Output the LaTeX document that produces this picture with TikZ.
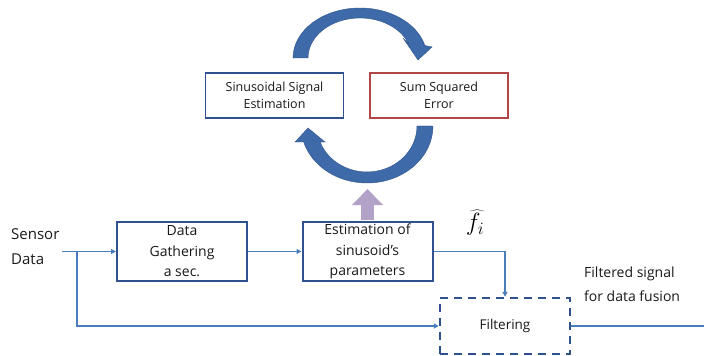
\documentclass[tikz,border=0pt]{standalone}
\usepackage{fontspec}
\setmainfont{Open Sans}
\usetikzlibrary{arrows.meta}
\definecolor{boxblue}{RGB}{47,82,143}
\definecolor{boxred}{RGB}{176,70,72}
\definecolor{lineblue}{RGB}{74,126,187}
\definecolor{arcblue}{RGB}{62,106,170}
\definecolor{lilac}{RGB}{179,162,199}
\begin{document}
\begin{tikzpicture}[x=1pt,y=-1pt,
  topbox/.style={line width=1.8pt, fill=white, align=center, inner sep=0pt,
    minimum width=138pt, minimum height=45pt, text=black!90,
    font=\fontsize{12.5}{17}\selectfont},
  botbox/.style={draw=boxblue, line width=2pt, fill=white, align=center, inner sep=0pt,
    minimum width=130pt, minimum height=59pt, text=black!90,
    font=\fontsize{14}{20.5}\selectfont},
  filtbox/.style={draw=boxblue, line width=2.5pt, dash pattern=on 8pt off 6pt,
    fill=white, align=center, inner sep=0pt,
    minimum width=130pt, minimum height=56pt, text=black!90,
    font=\fontsize{13.5}{16}\selectfont},
  lbl/.style={align=left, inner sep=0pt, text=black!90},
  conn/.style={draw=lineblue, line width=1.3pt, -{Triangle[length=5pt,width=5pt]}},
  connplain/.style={draw=lineblue, line width=1.3pt},
  arcshape/.style={fill=arcblue, draw=arcblue!80!black, line width=0.4pt}
]
\useasboundingbox (0,0) rectangle (704,356);

% circular arrows
\path[arcshape] (293,58) arc[start angle=180, end angle=345.5, x radius=67, y radius=50]
  -- (432,47) -- (418,60) -- (403,38) -- (408.9,44.3)
  arc[start angle=340, end angle=180, x radius=52, y radius=40] -- cycle;
\path[arcshape] (433,126) arc[start angle=0, end angle=163.7, x radius=66, y radius=57]
  -- (295,142) -- (308,128) -- (325,142) -- (320.1,142)
  arc[start angle=159.6, end angle=0, x radius=50, y radius=46] -- cycle;

% nodes
\node[topbox, draw=boxblue] (sse) at (274.5,95.5) {Sinusoidal Signal\\Estimation};
\node[topbox, draw=boxred] (sqe) at (439,95.5) {Sum Squared\\Error};
\node[botbox] (gather) at (182,251.5) {Data\\Gathering\\a sec.};
\node[botbox] (est) at (367.5,251.5) {Estimation of\\sinusoid’s\\parameters};
\node[filtbox] (filt) at (505,326) {Filtering};
\node[lbl, anchor=west, font=\fontsize{15}{25}\selectfont] (sensor) at (11,247) {Sensor\\Data};
\node[lbl, anchor=west, font=\fontsize{14}{24}\selectfont] (out) at (584,284) {Filtered signal\\for data fusion};
\node[inner sep=0pt] (fhat) at (475,223) {\fontsize{26}{30}\selectfont$\widehat{f}_{i}$};

\coordinate (s0) at (62,251.5);
\coordinate (br) at (77,251.5);
\coordinate (outend) at (704,326);

% purple arrow
\draw[lilac, line width=13pt, shorten <=1pt, -{Triangle[length=16pt,width=30pt]}] (est.north) -- ++(0,-32);

% connectors
\draw[conn] (s0) -- (gather.west);
\draw[conn] (br) |- (filt.west);
\draw[conn] (gather.east) -- (est.west);
\draw[conn] (est.east) -| (filt.north);
\draw[connplain] (filt.east) -- (outend);
\end{tikzpicture}
\end{document}
